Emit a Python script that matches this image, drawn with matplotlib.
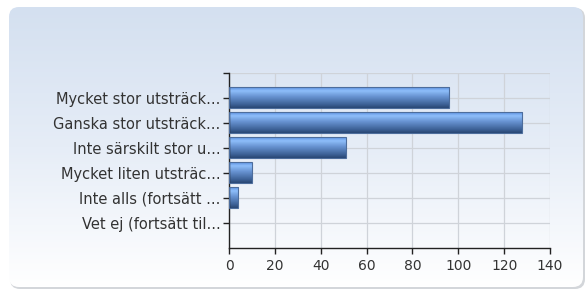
import numpy as np
import matplotlib.pyplot as plt
from matplotlib.colors import LinearSegmentedColormap
from matplotlib.patches import FancyBboxPatch

categories = [
    "Mycket stor utsträck...",
    "Ganska stor utsträck...",
    "Inte särskilt stor u...",
    "Mycket liten utsträc...",
    "Inte alls (fortsätt ...",
    "Vet ej (fortsätt til...",
]
values = [96, 128, 51, 10, 4, 0]
xticks = [0, 20, 40, 60, 80, 100, 120, 140]

W, H = 587, 291
fig = plt.figure(figsize=(W / 100, H / 100), dpi=100)
fig.patch.set_facecolor("white")

# background panel with vertical gradient and rounded corners
bg = fig.add_axes([0, 0, 1, 1])
bg.set_xlim(0, W)
bg.set_ylim(H, 0)
bg.axis("off")
shadow = FancyBboxPatch((10, 8), 575, 281, boxstyle="round,pad=0,rounding_size=10",
                        fc="#d3d6da", ec="none", zorder=1)
bg.add_patch(shadow)
panel = FancyBboxPatch((9, 7), 574, 280, boxstyle="round,pad=0,rounding_size=10",
                       fc="none", ec="none", zorder=1)
bg.add_patch(panel)
grad = np.linspace(0, 1, 256).reshape(-1, 1)
bg_cmap = LinearSegmentedColormap.from_list("bg", ["#d4e0f0", "#e6edf7", "#ffffff"])
im = bg.imshow(grad, cmap=bg_cmap, extent=(9, 583, 287, 7), aspect="auto", zorder=2)
im.set_clip_path(panel)

ax = fig.add_axes([229 / W, 1 - 247.7 / H, 321 / W, 175 / H])
ax.set_facecolor("none")
ypos = np.arange(1, len(categories) + 1)
h = 0.84
bars = ax.barh(ypos, values, height=h, color="none", edgecolor="#4d6d9c", linewidth=0.8, zorder=3)

bar_cmap = LinearSegmentedColormap.from_list(
    "bar", [(0, "#5b8fe0"), (0.18, "#8ebefa"), (0.45, "#6893d2"), (0.85, "#3a5e92"), (1, "#284571")])
for b in bars:
    if b.get_width() <= 0:
        b.set_linewidth(0)
        continue
    x0, y0 = b.get_x(), b.get_y()
    bi = ax.imshow(grad, cmap=bar_cmap, aspect="auto", zorder=2,
                   extent=(x0, x0 + b.get_width(), y0 + b.get_height(), y0))
    bi.set_clip_path(b)

ax.set_xlim(0, 140)
ax.set_ylim(7, 0)
ax.set_xticks(xticks)
ax.set_yticks([0] + list(ypos))
ax.set_yticklabels([""] + categories)
ax.grid(True, color="#cfd3d9", linewidth=0.9, zorder=0)
ax.set_axisbelow(True)
for s in ["top", "right"]:
    ax.spines[s].set_visible(False)
for s in ["left", "bottom"]:
    ax.spines[s].set_color("#222222")
    ax.spines[s].set_linewidth(1.0)
ax.tick_params(axis="both", length=4, width=1, color="#222222", labelcolor="#333333",
               labelsize=10, pad=2)
ax.tick_params(axis="y", labelsize=10.5)
ax.tick_params(axis="x", pad=4)

fig.savefig("out.png", dpi=100)
